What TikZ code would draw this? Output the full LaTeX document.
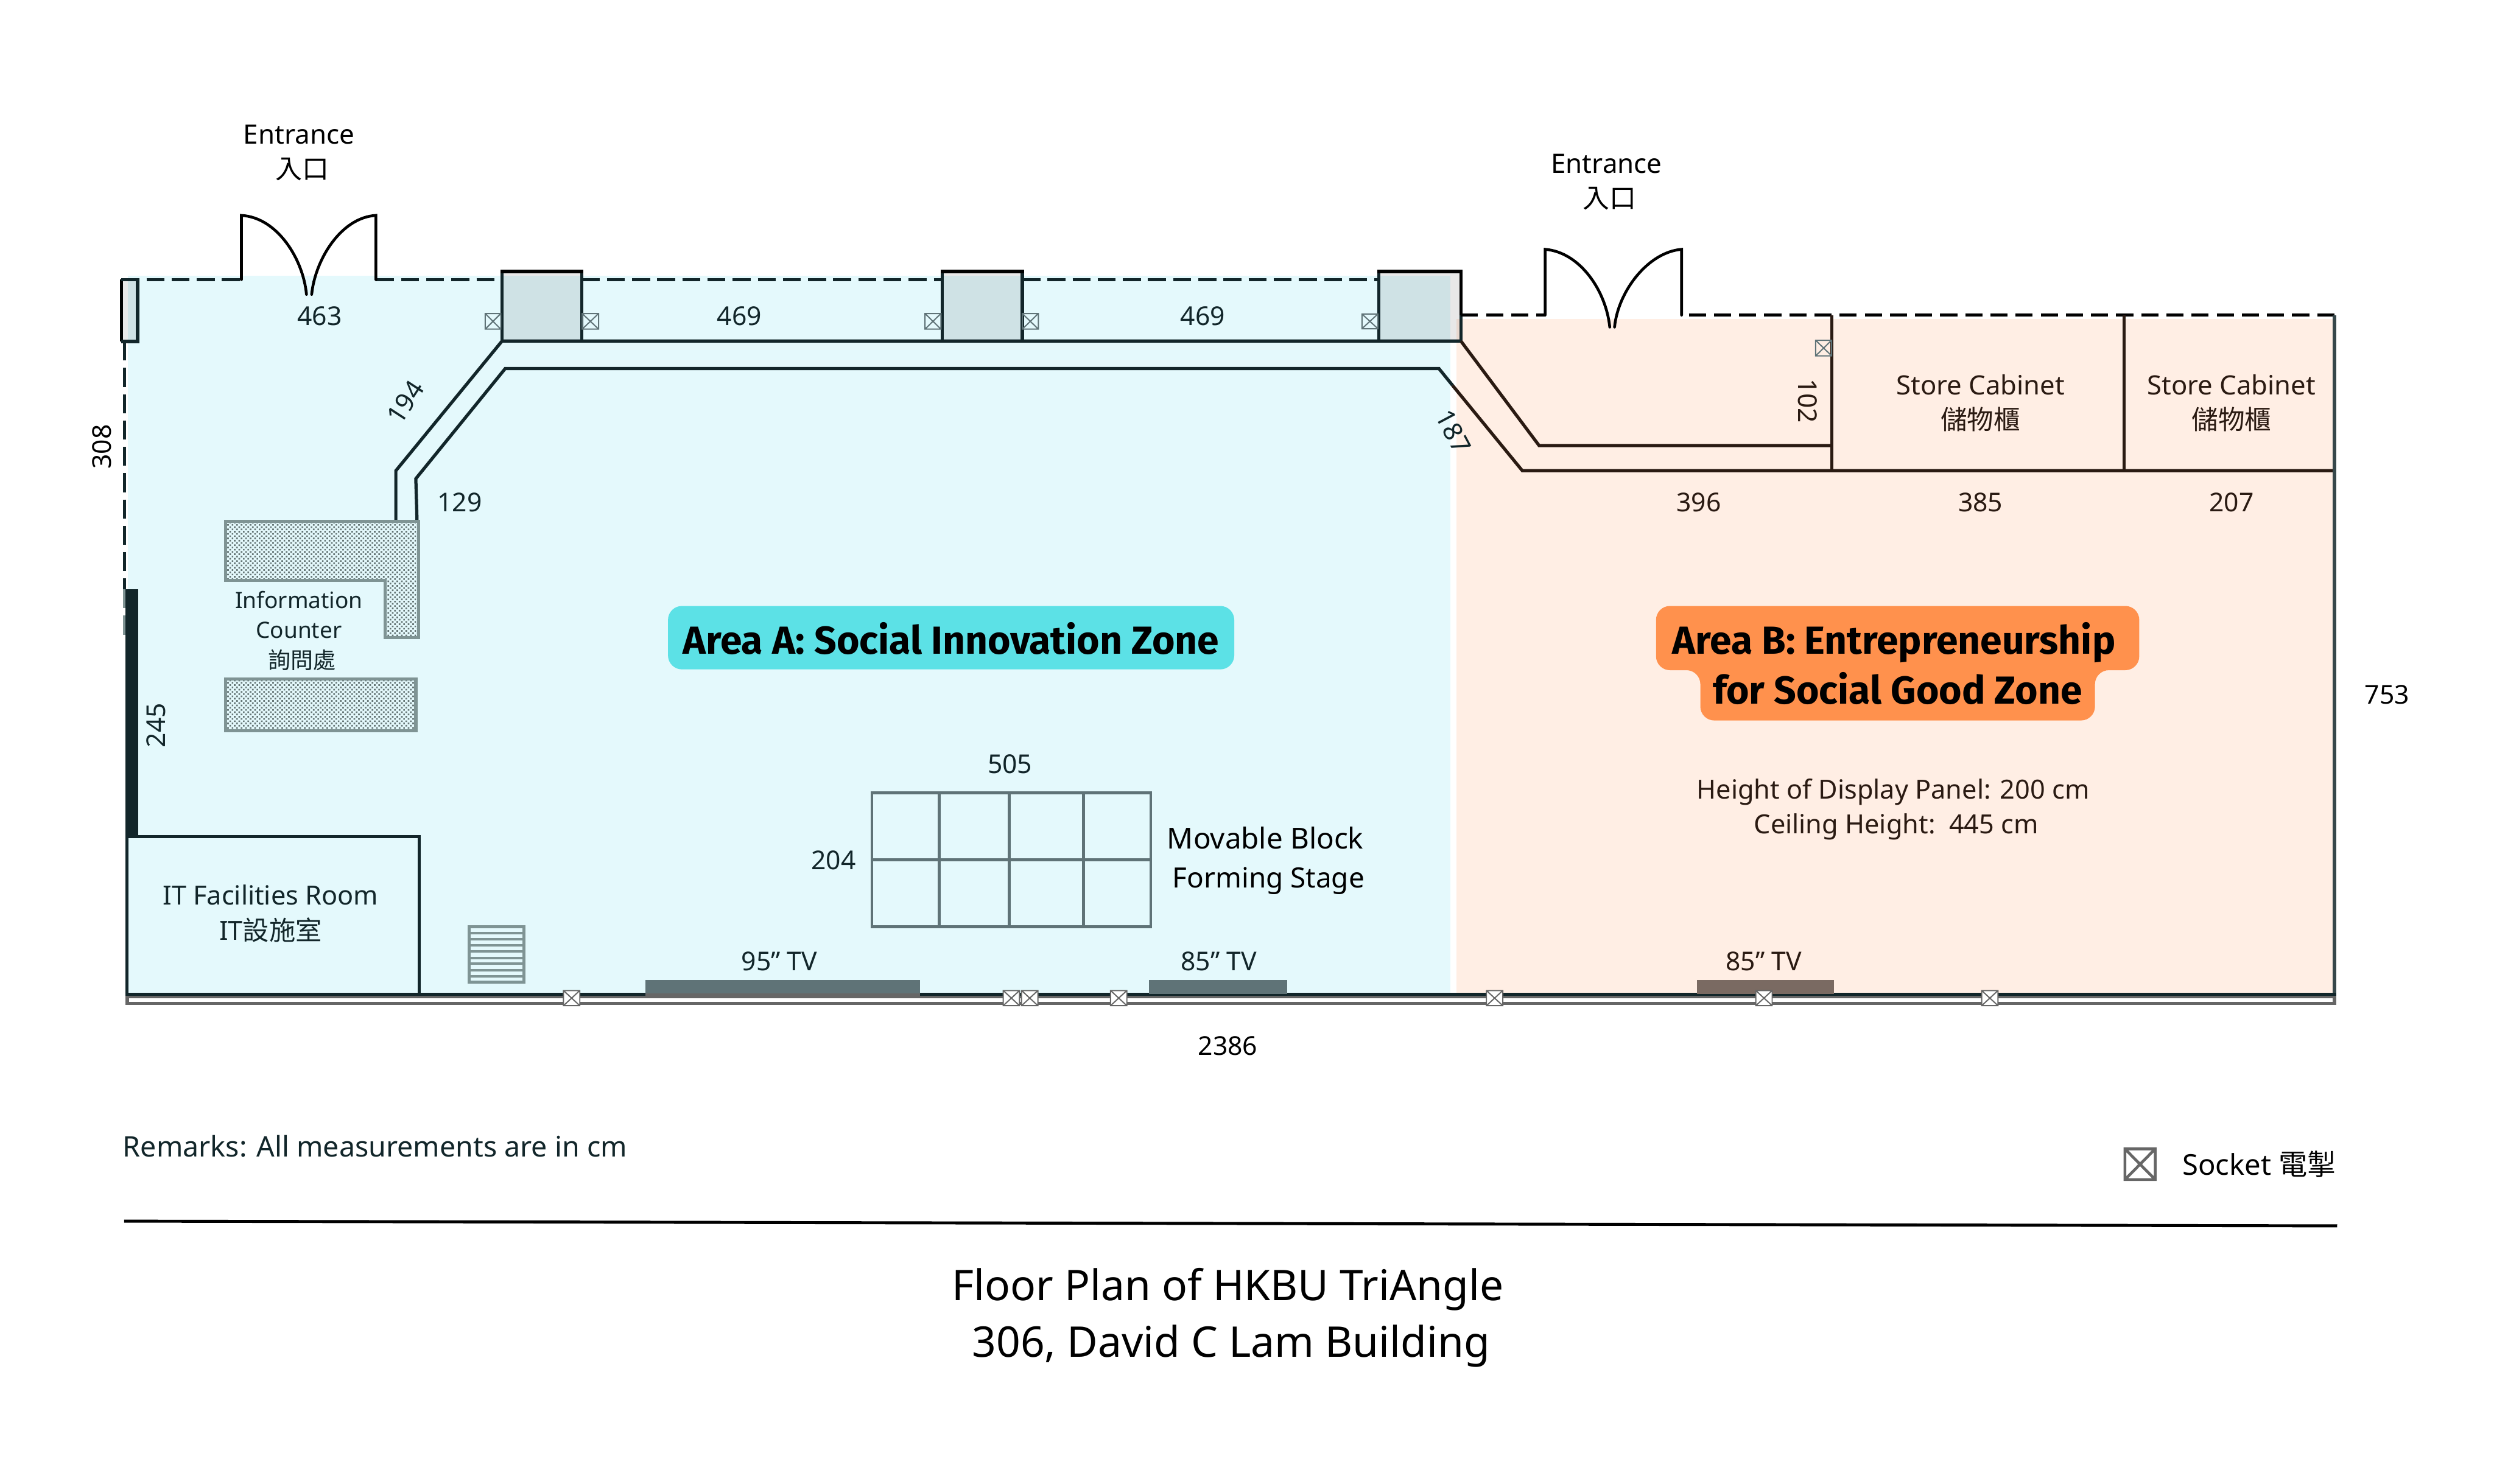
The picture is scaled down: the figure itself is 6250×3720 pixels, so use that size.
\documentclass[tikz,border=0pt]{standalone}
\usepackage{fontspec}
\setmainfont{Noto Sans}
\newfontfamily\cjk{Noto Sans CJK TC}
\newfontfamily\boldfam{Fira Sans}[UprightFont=* Bold]
\usetikzlibrary{patterns.meta}
\definecolor{ink}{HTML}{12262A}
\definecolor{bluebg}{HTML}{E4F9FC}
\definecolor{peachbg}{HTML}{FFEEE4}
\definecolor{brownink}{HTML}{2A1A12}
\definecolor{fitting}{HTML}{5F7377}
\definecolor{hatchedge}{HTML}{7F9494}
\definecolor{sockgray}{HTML}{666666}
\definecolor{tvbrown}{HTML}{7A6A62}
\definecolor{areaA}{HTML}{5CE1E6}
\definecolor{areaB}{HTML}{FF914D}
\newcommand{\fs}[1]{\fontsize{#1}{#1}\selectfont}
\newcommand{\sockbox}[4]{\draw[sockline] (#1,#2) rectangle (#3,#4) (#1,#2) -- (#3,#4) (#3,#2) -- (#1,#4);}
\newcommand{\wallsock}[1]{\draw[sockline,draw=sockgray,fill=white] (#1,2483) rectangle (#1+41,2521) (#1,2483) -- (#1+41,2521) (#1+41,2483) -- (#1,2521);}
\tikzset{
  wall/.style={draw=ink,line width=1.6pt,line join=miter},
  wallb/.style={draw=brownink,line width=1.6pt,line join=miter},
  dashwall/.style={draw=ink,line width=1.6pt,dash pattern=on 9pt off 3.6pt},
  dashwallk/.style={draw=black,line width=1.6pt,dash pattern=on 8.6pt off 4pt},
  door/.style={draw=black,line width=1.4pt,line cap=round},
  pillar/.style={fill=black,fill opacity=0.09},
  pillartop/.style={draw=black,line width=1.9pt},
  sockline/.style={draw=fitting,line width=0.6pt},
  hatch/.style={draw=hatchedge,line width=1.6pt,pattern={Dots[distance=1.6pt,radius=0.58pt,angle=45]},pattern color=hatchedge!80!black},
  fit/.style={draw=fitting,line width=1.4pt},
  lab/.style={inner sep=0pt,text=ink},
  labk/.style={inner sep=0pt,text=black},
  labb/.style={inner sep=0pt,text=brownink}
}
\begin{document}
\begin{tikzpicture}[x=0.2pt,y=-0.2pt]
\useasboundingbox (0,0) rectangle (6250,3720);
\fill[white] (0,0) rectangle (6250,3720);
% zones
\fill[bluebg] (320,691) rectangle (3635,2492);
\fill[peachbg] (3650,799) rectangle (5850,2492);
% pillars
\fill[pillar] (304,700) rectangle (345,856);
\fill[pillar] (1258,680) rectangle (1458,855);
\fill[pillar] (2361,680) rectangle (2562,855);
\fill[pillar] (3455,680) rectangle (3661,855);
\draw[wall,draw=black] (304,856) -- (304,701);
\draw[wall] (304,856) -- (345,856) -- (345,701);
\draw[wall] (1258,680) -- (1258,855) (1458,680) -- (1458,855);
\draw[wall] (2361,680) -- (2361,855) (2562,680) -- (2562,855);
\draw[wall] (3455,680) -- (3455,855);
\draw[wall,draw=black] (3661,680) -- (3661,790);
\draw[wall] (3661,790) -- (3661,855);
\draw[pillartop] (1254,680) -- (1462,680);
\draw[pillartop] (2357,680) -- (2566,680);
\draw[pillartop] (3451,680) -- (3665,680);
% dashed walls
\draw[dashwall] (304,701) -- (605,701);
\draw[dashwall] (942,701) -- (1258,701);
\draw[dashwall] (1458,701) -- (2361,701);
\draw[dashwall] (2562,701) -- (3455,701);
\draw[dashwall,dash pattern=on 9.6pt off 3.6pt] (312,856) -- (312,1477);
\draw[dashwall,draw=hatchedge,dash pattern=on 9.6pt off 3.6pt] (312,1477) -- (312,1593);
\draw[dashwallk] (3661,790) -- (3872,790);
\draw[dashwallk] (4232,790) -- (5850,790);
% doors
\draw[door] (605,701) -- (605,540) .. controls (695,545) and (760,650) .. (768,738);
\draw[door] (942,701) -- (942,540) .. controls (855,545) and (790,650) .. (781,738);
\draw[door] (3872,790) -- (3872,625) .. controls (3960,632) and (4025,730) .. (4034,820);
\draw[door] (4214,790) -- (4214,625) .. controls (4130,632) and (4055,730) .. (4046,820);
% partition walls
\draw[wall] (992,1303) -- (992,1180) -- (1258,855) -- (3661,855);
\draw[wall] (1045,1303) -- (1042,1200) -- (1266,924) -- (3606,924) -- (3640,966);
\draw[wallb] (3640,966) -- (3815,1180) -- (5850,1180);
\draw[wallb] (3661,855) -- (3857,1117) -- (4590,1117);
\draw[wallb] (4590,790) -- (4590,1180);
\draw[wallb] (5323,790) -- (5323,1180);
\draw[wallb,draw=ink!85!white] (5850,790) -- (5850,2492);
% bottom wall
\draw[sockgray,line width=1.6pt,fill=white] (319,2498) rectangle (5850,2515);
\draw[ink,line width=1.6pt] (315,2492) -- (5854,2492);
% IT room and thick wall
\fill[ink] (315,1477) rectangle (347,2097);
\draw[wall] (318,2097) -- (1050,2097) -- (1050,2492);
\draw[wall] (318,2097) -- (318,2492);
% counter
\draw[hatch] (565,1307) -- (1049,1307) -- (1049,1598) -- (965,1598) -- (965,1455) -- (565,1455) -- cycle;
\draw[hatch] (565,1702) rectangle (1042,1832);
% vent
\draw[draw=hatchedge,line width=1.5pt] (1175,2323) rectangle (1313,2462);
\foreach \y in {2339,2354,2370,2385,2401,2416,2432,2447} \draw[draw=hatchedge,line width=1.2pt] (1175,\y) -- (1313,\y);
% stage
\draw[fit] (2185,1987) rectangle (2884,2323);
\draw[fit] (2354,1987) -- (2354,2323) (2529,1987) -- (2529,2323) (2715,1987) -- (2715,2323) (2185,2155) -- (2884,2155);
% TVs
\fill[fitting] (1618,2457) rectangle (2305,2490);
\fill[sockgray] (1618,2490) rectangle (2305,2498);
\fill[fitting] (2880,2457) rectangle (3225,2492);
\fill[tvbrown] (4253,2457) rectangle (4596,2492);
% sockets
\sockbox{1216}{786}{1255}{825}
\sockbox{1459}{786}{1500}{825}
\sockbox{2318}{786}{2358}{825}
\sockbox{2562}{786}{2602}{825}
\sockbox{3413}{787}{3453}{824}
\sockbox{4550}{853}{4590}{892}
\wallsock{1412}
\wallsock{2514}
\wallsock{2560}
\wallsock{2783}
\wallsock{3725}
\wallsock{4400}
\wallsock{4966}
% legend
\draw[draw=sockgray,line width=1.4pt] (5325,2880) rectangle (5401,2957) (5325,2880) -- (5401,2957) (5401,2880) -- (5325,2957);
\draw[black,line width=1.5pt] (311,3061) -- (5857,3073);
% area labels
\fill[areaA,rounded corners=7pt] (1674,1519) rectangle (3093,1678);
\fill[areaB,rounded corners=7pt] (4150,1519) -- (5361,1519) -- (5361,1680) -- (5250,1680) -- (5250,1806) -- (4261,1806) -- (4261,1680) -- (4150,1680) -- cycle;
\node[labk,font=\fs{19.6}\boldfam,anchor=base] (areaAtext) at (2383,1640) {Area A: Social Innovation Zone};
\node[labk,font=\fs{19.6}\boldfam,anchor=base] (areaBone) at (4746,1640) {Area B: Entrepreneurship};
\node[labk,font=\fs{19.6}\boldfam,anchor=base] (areaBtwo) at (4755,1764) {for Social Good Zone};
% texts
\node[labk,font=\fs{13.4}] (ent1) at (749,338) {Entrance};
\node[labk,font=\fs{13.4}\cjk] (ent1c) at (757,424) {入口};
\node[labk,font=\fs{13.4}] (ent2) at (4026,410) {Entrance};
\node[labk,font=\fs{13.4}\cjk] (ent2c) at (4034,498) {入口};
\node[lab,font=\fs{13}] (d463) at (801,793) {463};
\node[lab,font=\fs{13}] (d469a) at (1853,793) {469};
\node[lab,font=\fs{13}] (d469b) at (3014,793) {469};
\node[lab,font=\fs{13},rotate=57] (d194) at (1016,1008) {194};
\node[lab,font=\fs{13},rotate=-62] (d187) at (3642,1082) {187};
\node[labb,font=\fs{13},rotate=-90] (d102) at (4530,1005) {102};
\node[lab,font=\fs{13}] (d129) at (1152,1260) {129};
\node[labk,font=\fs{13},rotate=90] (d308) at (255,1120) {308};
\node[lab,font=\fs{13},rotate=90] (d245) at (391,1818) {245};
\node[labb,font=\fs{13}] (d396) at (4257,1260) {396};
\node[labb,font=\fs{13}] (d385) at (4963,1260) {385};
\node[labb,font=\fs{13}] (d207) at (5592,1260) {207};
\node[labk,font=\fs{13}] (d753) at (5982,1742) {753};
\node[labb,font=\fs{13.3}] (sc1) at (4963,965) {Store Cabinet};
\node[labb,font=\fs{13.3}\cjk] (sc1c) at (4963,1051) {儲物櫃};
\node[labb,font=\fs{13.3}] (sc2) at (5592,965) {Store Cabinet};
\node[labb,font=\fs{13.3}\cjk] (sc2c) at (5592,1051) {儲物櫃};
\node[lab,font=\fs{11.3}] (info1) at (749,1503) {Information};
\node[lab,font=\fs{11.3}] (info2) at (749,1579) {Counter};
\node[lab,font=\fs{11.3}\cjk] (info3) at (757,1654) {詢問處};
\node[lab,font=\fs{13.2}] (it1) at (678,2244) {IT Facilities Room};
\node[lab,font=\fs{13.2}] (it2) at (678,2332) {IT{\cjk 設施室}};
\node[labb,font=\fs{13.2}] (h1) at (4744,1985) {Height of Display Panel: 200 cm};
\node[labb,font=\fs{13.2}] (h2) at (4752,2073) {Ceiling Height:\ \ 445 cm};
\node[lab,font=\fs{13}] (d505) at (2531,1916) {505};
\node[lab,font=\fs{13}] (d204) at (2089,2156) {204};
\node[labk,font=\fs{14.5}] (mv1) at (3171,2101) {Movable Block};
\node[labk,font=\fs{14}] (mv2) at (3179,2208) {Forming Stage};
\node[lab,font=\fs{13}] (tv95) at (1953,2410) {95" TV};
\node[lab,font=\fs{13}] (tv85a) at (3054,2410) {85" TV};
\node[labb,font=\fs{13}] (tv85b) at (4420,2410) {85" TV};
\node[labk,font=\fs{13}] (d2386) at (3077,2622) {2386};
\node[lab,font=\fs{14.2},anchor=west] (rem) at (307,2874) {Remarks: All measurements are in cm};
\node[labk,font=\fs{14.4},anchor=west] (sock) at (5468,2918) {Socket {\cjk 電掣}};
\node[labk,font=\fs{21.2}] (title1) at (3077,3232) {Floor Plan of HKBU TriAngle};
\node[labk,font=\fs{21.2}] (title2) at (3085,3374) {306, David C Lam Building};
\end{tikzpicture}
\end{document}
